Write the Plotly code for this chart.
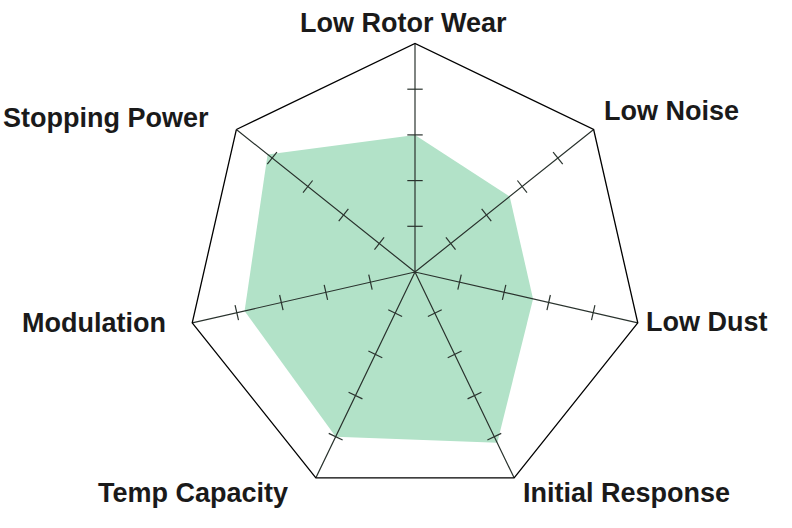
import plotly.graph_objects as go

categories = ["Low Rotor Wear", "Low Noise", "Low Dust", "Initial Response",
              "Temp Capacity", "Modulation", "Stopping Power"]
scores = [6.0, 5.3, 5.3, 8.3, 8.0, 7.65, 8.25]
tick_values = [2, 4, 6, 8]
r_max = 10

# label placement (pixel centres in the 792x528 page)
label_pos = [(403, 23), (671, 111), (707, 322), (626, 493),
             (193, 493), (94, 323), (106, 118)]

W, H = 792, 528
cx, cy, R = 415, 272, 228.5

spoke_col = "#2a332e"
fig = go.Figure()

fig.add_trace(go.Scatterpolar(
    r=scores + [scores[0]], theta=categories + [categories[0]],
    mode="lines", fill="toself", fillcolor="#b2e2c8",
    line=dict(width=0, color="#b2e2c8"), hoverinfo="skip", showlegend=False))

sr, st = [], []
for c in categories:
    sr += [0, r_max]
    st += [c, c]
fig.add_trace(go.Scatterpolar(r=sr, theta=st, mode="lines",
                              line=dict(color=spoke_col, width=1.2),
                              hoverinfo="skip", showlegend=False))

tr, tt, ta = [], [], []
n = len(categories)
for i, c in enumerate(categories):
    for v in tick_values:
        tr.append(v)
        tt.append(c)
        ta.append(i * 360.0 / n)
fig.add_trace(go.Scatterpolar(
    r=tr, theta=tt, mode="markers",
    marker=dict(symbol="line-ew", size=11, angle=ta, color=spoke_col,
                line=dict(width=1.2, color=spoke_col)),
    hoverinfo="skip", showlegend=False))

annotations = []
for c, (px, py) in zip(categories, label_pos):
    annotations.append(dict(
        text="<b>" + c + "</b>", x=px / W, y=1 - py / H,
        xref="paper", yref="paper",
        xanchor="center", yanchor="middle", showarrow=False,
        font=dict(family="Liberation Sans, Arial, sans-serif", size=27, color="#1a1a1a")))

fig.update_layout(
    width=W, height=H,
    margin=dict(l=0, r=0, t=0, b=0),
    paper_bgcolor="white",
    showlegend=False,
    annotations=annotations,
    polar=dict(
        domain=dict(x=[(cx - R) / W, (cx + R) / W], y=[1 - (cy + R) / H, 1 - (cy - R) / H]),
        bgcolor="white",
        gridshape="linear",
        radialaxis=dict(range=[0, r_max], visible=False),
        angularaxis=dict(rotation=90, direction="clockwise", showgrid=False,
                         showticklabels=False, ticks="", linecolor="black", linewidth=1.3,
                         categoryorder="array", categoryarray=categories),
    ),
)

fig.write_html("out.html",
               config={"displayModeBar": False, "staticPlot": True},
               post_script="document.body.style.margin='0';document.body.style.overflow='hidden';")
